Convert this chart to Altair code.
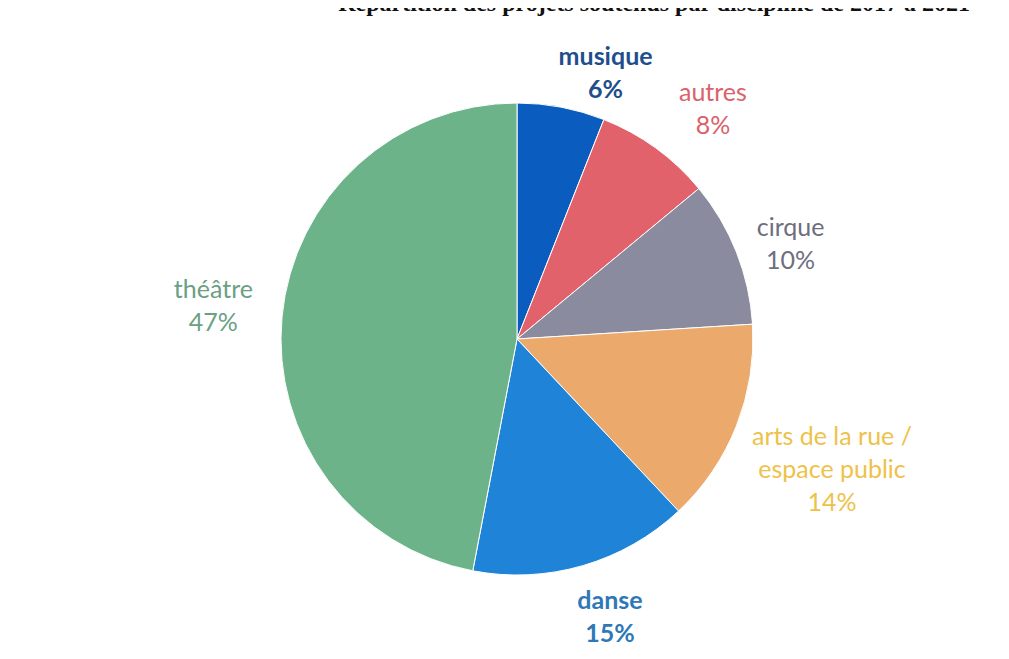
import altair as alt
import pandas as pd

# ---- data ----
categories = ["musique", "autres", "cirque", "arts de la rue /\nespace public", "danse", "théâtre"]
values = [6, 8, 10, 14, 15, 47]
order = [0, 1, 2, 3, 4, 5]
slice_colors = ["#0b5cbf", "#e2626b", "#8a8b9e", "#eba96c", "#1f83d7", "#6db38a"]
label_colors = ["#1f4e8c", "#d9626b", "#6e6e7e", "#eec24a", "#2f78b8", "#6aa083"]
label_weights = ["bold", "normal", "normal", "normal", "bold", "normal"]
title_text = "Répartition des projets soutenus par discipline de 2017 à 2021"

df = pd.DataFrame({"category": categories, "value": values, "order": order})

LINE_H = 33
# label placement (radius in px, pixel nudges) per slice
label_layout = {
    "musique": (270, 38, 0),
    "autres": (284, 29, 0),
    "cirque": (290, 4, 12),
    "arts de la rue /\nespace public": (356, -16, 0),
    "danse": (290, 12, 0),
    "théâtre": (305, 0, -4),
}

theta_scale = alt.Scale(domain=[0, 100])

base = alt.Chart(df)

pie = base.mark_arc(outerRadius=236, stroke="white", strokeWidth=1).encode(
    theta=alt.Theta("value:Q", stack=True, scale=theta_scale),
    order=alt.Order("order:Q"),
    color=alt.Color("category:N", scale=alt.Scale(domain=categories, range=slice_colors), legend=None),
)

label_base = base.transform_window(
    cum="sum(value)", sort=[alt.SortField("order")], frame=[None, 0]
).transform_calculate(
    mid="datum.cum - datum.value / 2",
    label="datum.category + '\\n' + datum.value + '%'",
)

layers = [pie]
for cat, col, w in zip(categories, label_colors, label_weights):
    r, dx, dy = label_layout[cat]
    n_lines = cat.count("\n") + 2
    dy = dy - (n_lines - 1) * LINE_H / 2
    layers.append(
        label_base.transform_filter(alt.datum.category == cat).mark_text(
            font="Lato", fontSize=25, fontWeight=w, color=col,
            lineBreak="\n", lineHeight=LINE_H, align="center", baseline="middle",
            radius=r, dx=dx, dy=dy,
        ).encode(
            theta=alt.Theta("mid:Q", stack=False, scale=theta_scale),
            text="label:N",
        )
    )

title = alt.Chart(pd.DataFrame({"t": [title_text]})).mark_text(
    font="Liberation Serif", fontSize=24, fontWeight="bold", color="#111111",
    align="right", baseline="alphabetic",
).encode(x=alt.value(933), y=alt.value(-18), text="t:N")
layers.append(title)

chart = alt.layer(*layers).properties(
    width=960, height=620,
    padding={"left": 29, "top": 21, "right": 0, "bottom": 0},
    autosize=alt.AutoSizeParams(type="none"),
    background="white",
).configure_view(stroke=None)

chart.save("out.html", embed_options={"renderer": "svg", "actions": False})
